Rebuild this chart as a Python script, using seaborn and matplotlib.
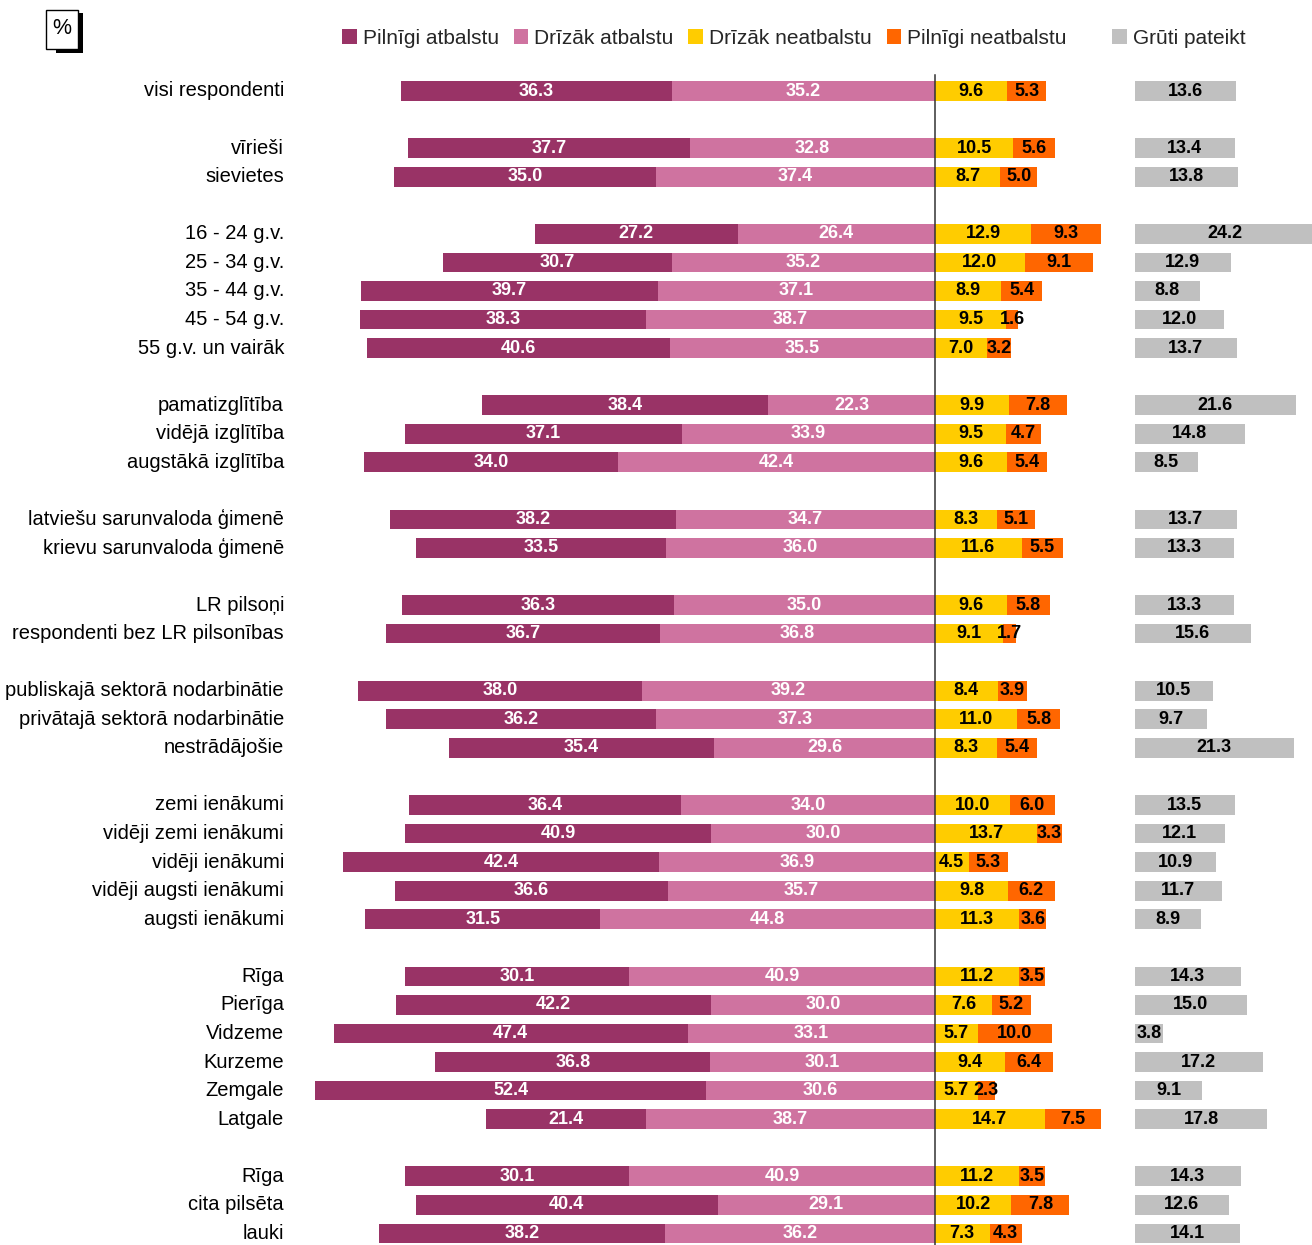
import numpy as np
import pandas as pd
import matplotlib
matplotlib.use("Agg")
import matplotlib.pyplot as plt
import matplotlib.transforms as mtransforms
from matplotlib.patches import Patch, Rectangle
import seaborn as sns

# ---------------- data ----------------
groups = [
    ["visi respondenti"],
    ["vīrieši", "sievietes"],
    ["16 - 24 g.v.", "25 - 34 g.v.", "35 - 44 g.v.", "45 - 54 g.v.", "55 g.v. un vairāk"],
    ["pamatizglītība", "vidējā izglītība", "augstākā izglītība"],
    ["latviešu sarunvaloda ģimenē", "krievu sarunvaloda ģimenē"],
    ["LR pilsoņi", "respondenti bez LR pilsonības"],
    ["publiskajā sektorā nodarbinātie", "privātajā sektorā nodarbinātie", "nestrādājošie"],
    ["zemi ienākumi", "vidēji zemi ienākumi", "vidēji ienākumi", "vidēji augsti ienākumi", "augsti ienākumi"],
    ["Rīga", "Pierīga", "Vidzeme", "Kurzeme", "Zemgale", "Latgale"],
    ["Rīga", "cita pilsēta", "lauki"],
]

pilnigi_atbalstu = [36.3, 37.7, 35.0, 27.2, 30.7, 39.7, 38.3, 40.6, 38.4, 37.1, 34.0,
                    38.2, 33.5, 36.3, 36.7, 38.0, 36.2, 35.4, 36.4, 40.9, 42.4, 36.6, 31.5,
                    30.1, 42.2, 47.4, 36.8, 52.4, 21.4, 30.1, 40.4, 38.2]
drizak_atbalstu = [35.2, 32.8, 37.4, 26.4, 35.2, 37.1, 38.7, 35.5, 22.3, 33.9, 42.4,
                   34.7, 36.0, 35.0, 36.8, 39.2, 37.3, 29.6, 34.0, 30.0, 36.9, 35.7, 44.8,
                   40.9, 30.0, 33.1, 30.1, 30.6, 38.7, 40.9, 29.1, 36.2]
drizak_neatbalstu = [9.6, 10.5, 8.7, 12.9, 12.0, 8.9, 9.5, 7.0, 9.9, 9.5, 9.6,
                     8.3, 11.6, 9.6, 9.1, 8.4, 11.0, 8.3, 10.0, 13.7, 4.5, 9.8, 11.3,
                     11.2, 7.6, 5.7, 9.4, 5.7, 14.7, 11.2, 10.2, 7.3]
pilnigi_neatbalstu = [5.3, 5.6, 5.0, 9.3, 9.1, 5.4, 1.6, 3.2, 7.8, 4.7, 5.4,
                      5.1, 5.5, 5.8, 1.7, 3.9, 5.8, 5.4, 6.0, 3.3, 5.3, 6.2, 3.6,
                      3.5, 5.2, 10.0, 6.4, 2.3, 7.5, 3.5, 7.8, 4.3]
gruti_pateikt = [13.6, 13.4, 13.8, 24.2, 12.9, 8.8, 12.0, 13.7, 21.6, 14.8, 8.5,
                 13.7, 13.3, 13.3, 15.6, 10.5, 9.7, 21.3, 13.5, 12.1, 10.9, 11.7, 8.9,
                 14.3, 15.0, 3.8, 17.2, 9.1, 17.8, 14.3, 12.6, 14.1]

series_names = ["Pilnīgi atbalstu", "Drīzāk atbalstu", "Drīzāk neatbalstu",
                "Pilnīgi neatbalstu", "Grūti pateikt"]
colors = ["#993366", "#CF73A0", "#FFCC00", "#FF6600", "#C0C0C0"]

# slot index of each row (one empty slot between groups)
categories, slots = [], []
s = 0
for gi, g in enumerate(groups):
    if gi > 0:
        s += 1
    for c in g:
        categories.append(c)
        slots.append(s)
        s += 1
n_slots = s

df = pd.DataFrame({
    "slot": slots,
    "cat": categories,
    "P": pilnigi_atbalstu,
    "D": drizak_atbalstu,
    "N1": drizak_neatbalstu,
    "N2": pilnigi_neatbalstu,
    "G": gruti_pateikt,
})
df["left_total"] = -(df["P"] + df["D"])
df["left_d"] = -df["D"]
df["right_total"] = df["N1"] + df["N2"]
df["right_n1"] = df["N1"]

# ---------------- layout ----------------
sns.set_style("white")
plt.rcParams["font.family"] = ["Liberation Sans", "DejaVu Sans"]

W, H, DPI = 1312, 1245, 100
fig = plt.figure(figsize=(W / DPI, H / DPI), dpi=DPI)

SCALE = 7.47     # px per percent
CX = 935         # px of zero line
ROW = 28.56      # px per slot
Y0 = 91          # px centre of first slot
top_px = 75
ylim = ((H - Y0) / ROW, -(Y0 - top_px) / ROW)


def fig_rect(x0, x1, y0, y1):
    return [x0 / W, 1 - y1 / H, (x1 - x0) / W, (y1 - y0) / H]


AX_L, AX_R = 290, 1120
G_L = 1134.5
ax = fig.add_axes(fig_rect(AX_L, AX_R, top_px, H))
ax_g = fig.add_axes(fig_rect(G_L, W, top_px, H))
ax_c = fig.add_axes(fig_rect(CX, CX + 1, top_px, H))

order = list(range(n_slots))
common = dict(data=df, y="slot", order=order, orient="h", width=0.69,
              errorbar=None, saturation=1, linewidth=0)
sns.barplot(x="left_total", color=colors[0], ax=ax, **common)
sns.barplot(x="left_d", color=colors[1], ax=ax, **common)
sns.barplot(x="right_total", color=colors[3], ax=ax, **common)
sns.barplot(x="right_n1", color=colors[2], ax=ax, **common)
sns.barplot(x="G", color=colors[4], ax=ax_g, **common)

ax.set_xlim(-(CX - AX_L) / SCALE, (AX_R - CX) / SCALE)
ax_g.set_xlim(0, (W - G_L) / SCALE)
for a in (ax, ax_g, ax_c):
    a.set_ylim(ylim)
    a.set_xlabel("")
    a.set_ylabel("")
    a.set_xticks([])
    for sp in a.spines.values():
        sp.set_visible(False)
    a.patch.set_visible(False)

ax.set_yticks(slots, categories)
ax.tick_params(axis="y", length=0, pad=4.3, labelsize=14.5, labelcolor="black")
lift = mtransforms.ScaledTranslation(0, 2 / DPI, fig.dpi_scale_trans)
for lbl in ax.get_yticklabels():
    lbl.set_transform(lbl.get_transform() + lift)
ax_g.set_yticks([])

# centre line with ticks between rows
ax_c.spines["left"].set_visible(True)
ax_c.spines["left"].set_color("#333333")
ax_c.spines["left"].set_linewidth(1.1)
ax_c.set_yticks(np.arange(-0.5, n_slots - 0.5, 1.0))
ax_c.tick_params(axis="y", length=4.5, width=1.0, direction="out",
                 color="#333333", labelleft=False)

# value labels
lab_kw = dict(ha="center", va="center", fontsize=13, fontweight="bold")
for _, r in df.iterrows():
    y = r["slot"]
    ax.text(-(r["D"] + r["P"] / 2), y, f"{r['P']:.1f}", color="white", **lab_kw)
    ax.text(-r["D"] / 2, y, f"{r['D']:.1f}", color="white", **lab_kw)
    ax.text(r["N1"] / 2, y, f"{r['N1']:.1f}", color="black", **lab_kw)
    ax.text(r["N1"] + r["N2"] / 2, y, f"{r['N2']:.1f}", color="black", **lab_kw)
    ax_g.text(r["G"] / 2, y, f"{r['G']:.1f}", color="black", clip_on=False, **lab_kw)

# legends
leg_kw = dict(loc="center left", frameon=False, fontsize=15, handlelength=0.7,
              handleheight=0.7, handletextpad=0.3, columnspacing=0.7,
              borderpad=0, borderaxespad=0)
h1 = [Patch(facecolor=c, edgecolor="none", label=n) for c, n in zip(colors[:4], series_names[:4])]
fig.legend(handles=h1, ncol=4, bbox_to_anchor=(342 / W, 1 - 38 / H), **leg_kw)
h2 = [Patch(facecolor=colors[4], edgecolor="none", label=series_names[4])]
fig.legend(handles=h2, ncol=1, bbox_to_anchor=(1112 / W, 1 - 38 / H), **leg_kw)

# "%" box with shadow
fig.add_artist(Rectangle((56 / W, 1 - 53 / H), 27 / W, 40 / H, transform=fig.transFigure,
                         facecolor="black", edgecolor="none"))
fig.add_artist(Rectangle((46 / W, 1 - 49 / H), 32 / W, 39 / H, transform=fig.transFigure,
                         facecolor="white", edgecolor="black", linewidth=1))
fig.text(62 / W, 1 - 28 / H, "%", ha="center", va="center", fontsize=15.5, color="black")

fig.savefig("out.png", dpi=DPI)
